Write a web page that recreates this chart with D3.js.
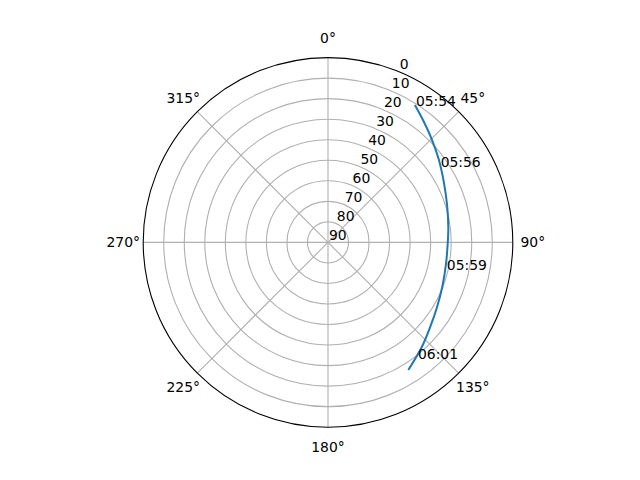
<!DOCTYPE html>
<html>
<head>
<meta charset="utf-8">
<script src="https://cdn.jsdelivr.net/npm/d3@7"></script>
<style>
  body { margin: 0; background: #fff; }
  text { font-family: "DejaVu Sans", sans-serif; font-size: 13.9px; fill: #000; }
</style>
</head>
<body>
<div id="chart"></div>
<script>
// satellite pass, azimuth (deg) and elevation (deg)
const passAz = [32.3, 37.9, 44.9, 53.2, 62.2, 72.5, 83.3, 90.4, 100.0, 111.1, 120.5, 129.6, 138.1, 147.8];
const passEl = [10.8, 14.6, 18.6, 22.6, 26.3, 29.2, 31.0, 31.7, 31.6, 30.3, 28.3, 25.4, 21.6, 16.6];

// time labels along the track
const timeLabels = ["05:54", "05:56", "05:59", "06:01"];
const timeAz = [32.3, 55.5, 102.5, 142.5];
const timeEl = [10.8, 24.0, 31.2, 18.8];

const thetaTicks = [0, 45, 90, 135, 180, 225, 270, 315];
const rTicks = [0, 10, 20, 30, 40, 50, 60, 70, 80, 90];

const width = 640;
const height = 480;
const cx = 328, cy = 242.4, R = 184.8;

const svg = d3.select("#chart")
  .append("svg")
  .attr("width", width)
  .attr("height", height);

const g = svg.append("g").attr("transform", `translate(${cx},${cy})`);

/* scales: elevation 0 at rim, 90 at centre */
const rScale = d3.scaleLinear().domain([0, 90]).range([R, 0]);
const aScale = d3.scaleLinear().domain([0, 360]).range([0, 2 * Math.PI]);

function px(az, el) {
  const a = aScale(az), r = rScale(el);
  return [r * Math.sin(a), -r * Math.cos(a)];
}

/* grid circles */
g.selectAll("circle.grid")
  .data(rTicks.filter(d => d > 0 && d < 90))
  .enter()
  .append("circle")
  .attr("class", "grid")
  .attr("r", d => rScale(d))
  .attr("fill", "none")
  .attr("stroke", "#b0b0b0")
  .attr("stroke-width", 1.1);

/* spokes */
g.selectAll("line.spoke")
  .data(thetaTicks)
  .enter()
  .append("line")
  .attr("x1", 0).attr("y1", 0)
  .attr("x2", d => px(d, 0)[0])
  .attr("y2", d => px(d, 0)[1])
  .attr("stroke", "#b0b0b0")
  .attr("stroke-width", 1.1);

/* outer spine */
g.append("circle")
  .attr("r", rScale(0))
  .attr("fill", "none")
  .attr("stroke", "#000")
  .attr("stroke-width", 1.1);

/* theta labels */
g.selectAll("text.theta")
  .data(thetaTicks)
  .enter()
  .append("text")
  .attr("x", d => (R + 20) * Math.sin(aScale(d)))
  .attr("y", d => -(R + 20) * Math.cos(aScale(d)))
  .attr("text-anchor", "middle")
  .attr("dominant-baseline", "central")
  .text(d => d + "°");

/* radial labels at 22.5 deg */
g.selectAll("text.rlab")
  .data(rTicks)
  .enter()
  .append("text")
  .attr("x", d => px(22.5, d)[0] + 1)
  .attr("y", d => px(22.5, d)[1] - 2.5)
  .text(d => d);

/* track */
const pts = passAz.map((a, i) => [aScale(a), rScale(passEl[i])]);
g.append("path")
  .datum(pts)
  .attr("d", d3.lineRadial().curve(d3.curveCatmullRom.alpha(0.5)))
  .attr("fill", "none")
  .attr("stroke", "#1f77b4")
  .attr("stroke-width", 2);

/* time labels */
g.selectAll("text.time")
  .data(timeLabels)
  .enter()
  .append("text")
  .attr("x", (d, i) => px(timeAz[i], timeEl[i])[0] + 1)
  .attr("y", (d, i) => px(timeAz[i], timeEl[i])[1] + 1)
  .text(d => d);
</script>
</body>
</html>
